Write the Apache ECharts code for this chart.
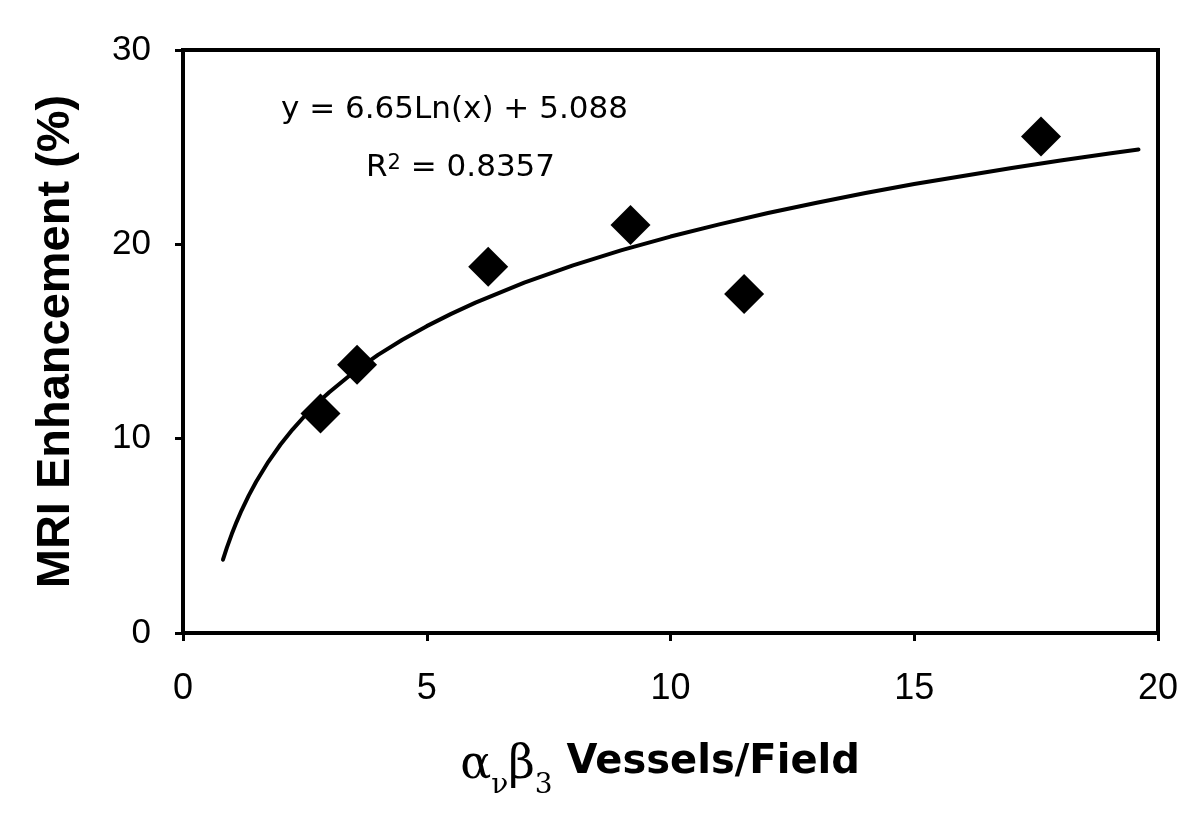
<!DOCTYPE html>
<html>
<head>
<meta charset="utf-8">
<script src="https://cdn.jsdelivr.net/npm/echarts@6/dist/echarts.min.js"></script>
<style>
html,body{margin:0;padding:0;background:#fff;}
#c{width:1200px;height:828px;}
</style>
</head>
<body>
<div id="c"></div>
<script>
// Measured data points (x: αvβ3 vessels/field, y: MRI enhancement %)
var vesselsPerField = [2.82, 3.57, 6.26, 9.18, 11.51, 17.60];
var mriEnhancement  = [11.3, 13.8, 18.85, 21.0, 17.45, 25.55];

// Logarithmic trend line
var trendX = [0.82, 0.9, 1.0, 1.1, 1.2, 1.35, 1.5, 1.75, 2.0, 2.25, 2.5, 2.75, 3.0, 3.5, 4.0, 4.5, 5.0, 5.5, 6.0, 7.0, 8.0, 9.0, 10, 11, 12, 13, 14, 15, 16, 17, 18, 19, 19.6];
var trendY = [3.77, 4.39, 5.09, 5.72, 6.30, 7.08, 7.78, 8.81, 9.70, 10.48, 11.18, 11.82, 12.39, 13.42, 14.31, 15.09, 15.79, 16.42, 17.00, 18.03, 18.92, 19.70, 20.40, 21.03, 21.61, 22.14, 22.64, 23.10, 23.52, 23.93, 24.31, 24.67, 24.88];

// Axis ticks
var xTicks = {min: 0, max: 20, interval: 5};
var yTicks = {min: 0, max: 30, interval: 10};

var equationText = 'y = 6.65Ln(x) + 5.088';
var rSquaredValue = '0.8357';

var arial = '"Liberation Sans", Arial, sans-serif';
var wide = '"DejaVu Sans", sans-serif';
var serif = '"DejaVu Serif", "Liberation Serif", serif';

var scatterData = vesselsPerField.map(function (x, i) { return [x, mriEnhancement[i]]; });
var trendData = trendX.map(function (x, i) { return [x, trendY[i]]; });

var chart = echarts.init(document.getElementById('c'), null, {renderer: 'canvas'});

chart.setOption({
  backgroundColor: '#fff',
  animation: false,
  grid: {
    left: 183, right: 42, top: 50, bottom: 195,
    show: true, borderColor: '#000', borderWidth: 4, backgroundColor: 'transparent'
  },
  xAxis: {
    type: 'value',
    min: xTicks.min, max: xTicks.max, interval: xTicks.interval,
    axisLine: {show: true, onZero: false, lineStyle: {color: '#000', width: 4}},
    axisTick: {show: true, inside: false, length: 8, lineStyle: {color: '#000', width: 3}},
    splitLine: {show: false},
    axisLabel: {color: '#000', fontSize: 36, fontFamily: arial, margin: 38},
    name: '{g|α}{s|ν}{g|β}{s|3}{b| Vessels/Field}',
    nameLocation: 'middle',
    nameGap: 110,
    nameTextStyle: {
      rich: {
        g: {fontFamily: serif, fontSize: 46, color: '#000', lineHeight: 50, verticalAlign: 'top'},
        s: {fontFamily: serif, fontSize: 28, color: '#000', lineHeight: 28, verticalAlign: 'top', padding: [29, 0, 0, 0]},
        b: {fontFamily: wide, fontSize: 40, fontWeight: 'bold', color: '#000', lineHeight: 50, verticalAlign: 'top', padding: [0, 21, 0, 0]}
      }
    }
  },
  yAxis: {
    type: 'value',
    min: yTicks.min, max: yTicks.max, interval: yTicks.interval,
    axisLine: {show: true, onZero: false, lineStyle: {color: '#000', width: 4}},
    axisTick: {show: true, inside: false, length: 8, lineStyle: {color: '#000', width: 3}},
    splitLine: {show: false},
    axisLabel: {color: '#000', fontSize: 35, fontFamily: arial, margin: 32},
    name: 'MRI Enhancement (%)',
    nameLocation: 'middle',
    nameGap: 103,
    nameTextStyle: {color: '#000', fontSize: 47, fontWeight: 'bold', fontFamily: arial}
  },
  graphic: [
    {
      type: 'text', left: 281, top: 94, z: 10,
      style: {text: equationText, fill: '#000', font: '31px ' + wide, lineHeight: 31}
    },
    {
      type: 'text', left: 366, top: 152, z: 10,
      style: {
        text: '{t|R}{p|2}{t| = ' + rSquaredValue + '}',
        rich: {
          t: {fill: '#000', fontFamily: wide, fontSize: 31, lineHeight: 31, verticalAlign: 'top'},
          p: {fill: '#000', fontFamily: wide, fontSize: 21, lineHeight: 21, verticalAlign: 'top', padding: [1, 0, 0, 0]}
        }
      }
    }
  ],
  series: [
    {
      name: 'Trend',
      type: 'line',
      data: trendData,
      smooth: false,
      showSymbol: false,
      symbol: 'none',
      lineStyle: {color: '#000', width: 4, join: 'round', cap: 'round'},
      z: 2
    },
    {
      name: 'Data',
      type: 'scatter',
      data: scatterData,
      symbol: 'diamond',
      symbolSize: [40, 40],
      itemStyle: {color: '#000', opacity: 1},
      z: 3
    }
  ]
});
</script>
</body>
</html>
